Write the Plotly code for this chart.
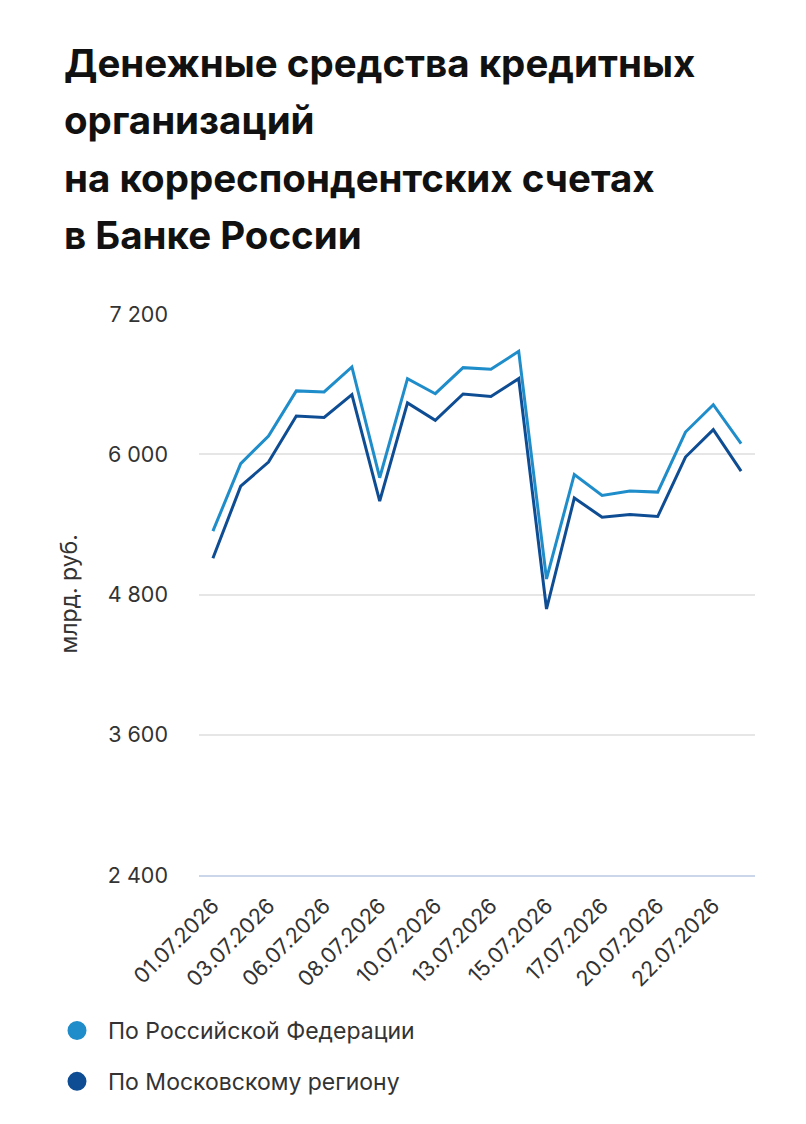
import plotly.graph_objects as go

# даты (рабочие дни + субботы), июль 2026
dates = ["01.07.2026", "02.07.2026", "03.07.2026", "04.07.2026", "06.07.2026",
         "07.07.2026", "08.07.2026", "09.07.2026", "10.07.2026", "11.07.2026",
         "13.07.2026", "14.07.2026", "15.07.2026", "16.07.2026", "17.07.2026",
         "18.07.2026", "20.07.2026", "21.07.2026", "22.07.2026", "23.07.2026"]

# млрд руб.
rf_values = [5342, 5919, 6156, 6542, 6533, 6747, 5799, 6647, 6518, 6741,
             6727, 6881, 4933, 5827, 5647, 5685, 5676, 6190, 6424, 6090]
msk_values = [5110, 5727, 5933, 6327, 6315, 6510, 5599, 6439, 6290, 6516,
              6495, 6647, 4676, 5625, 5462, 5484, 5467, 5976, 6210, 5856]

tick_labels = ["01.07.2026", "03.07.2026", "06.07.2026", "08.07.2026", "10.07.2026",
               "13.07.2026", "15.07.2026", "17.07.2026", "20.07.2026", "22.07.2026"]
y_ticks = [2400, 3600, 4800, 6000, 7200]

title_lines = ["Денежные средства кредитных", "организаций",
               "на корреспондентских счетах", "в Банке России"]
series_names = ["По Российской Федерации", "По Московскому региону"]

RF_COLOR = "#1f8dca"
MSK_COLOR = "#0e4d93"
FONT = "Inter"

# страница рисуется с отступом body 8px, поэтому всё сдвинуто на 8
OFF = 8
W, H = 806 - 2 * OFF, 1124 - 2 * OFF
L, T = 199 - OFF, 314 - OFF
R, B = W - (755 - OFF), H - (875 - OFF)
plot_w, plot_h = W - L - R, H - T - B

fig = go.Figure()

fig.add_trace(go.Scatter(x=dates, y=rf_values, mode="lines", name=series_names[0],
                         line=dict(color=RF_COLOR, width=3), showlegend=False))
fig.add_trace(go.Scatter(x=dates, y=msk_values, mode="lines", name=series_names[1],
                         line=dict(color=MSK_COLOR, width=3), showlegend=False))

# кружки для легенды (обводка того же цвета делает их крупнее)
for name, color in zip(series_names, [RF_COLOR, MSK_COLOR]):
    fig.add_trace(go.Scatter(x=[None], y=[None], mode="markers", name=name,
                             legendgroup=name,
                             marker=dict(color=color, size=18, symbol="circle",
                                         line=dict(color=color, width=3))))

# заголовок построчно (чтобы повторить межстрочный интервал)
title_y = [63, 120, 178, 235]
for text, py in zip(title_lines, title_y):
    fig.add_annotation(text="<b>" + text + "</b>", x=(62 - OFF - L) / plot_w,
                       y=(H - B - (py - OFF)) / plot_h, xref="paper", yref="paper",
                       xanchor="left", yanchor="middle", showarrow=False,
                       font=dict(family=FONT, size=38.5, color="#111111"))

# подпись оси Y
fig.add_annotation(text="млрд. руб.", textangle=-90,
                   x=(68 - OFF - L) / plot_w, y=0.5, xref="paper", yref="paper",
                   xanchor="center", yanchor="middle", showarrow=False,
                   font=dict(family=FONT, size=23, color="#333333"))

fig.update_layout(
    width=W, height=H,
    margin=dict(l=L, r=R, t=T, b=B, autoexpand=False),
    paper_bgcolor="white", plot_bgcolor="white",
    font=dict(family=FONT, color="#333333"),
    separators=", ",
    legend=dict(xref="container", yref="container", x=(46 - OFF) / W,
                y=1 - (1009 - OFF) / H,
                xanchor="left", yanchor="top", orientation="v",
                font=dict(family=FONT, size=23, color="#333333"),
                tracegroupgap=18, itemwidth=52),
    hovermode="x unified",
)

fig.update_xaxes(
    type="category", range=[-0.5, len(dates) - 0.5],
    tickmode="array", tickvals=tick_labels, ticktext=tick_labels,
    tickangle=-45, tickfont=dict(family=FONT, size=21.5, color="#333333"),
    showgrid=False, showline=True, linecolor="#ccd6eb", linewidth=1.5,
    ticks="", zeroline=False, ticklabelstandoff=8,
)

fig.update_yaxes(
    range=[2400, 7200], tickmode="array", tickvals=y_ticks, tickformat=",d",
    tickfont=dict(family=FONT, size=21.5, color="#333333"),
    showgrid=True, gridcolor="#e6e6e6", gridwidth=1.5,
    zeroline=False, showline=False, ticklabelstandoff=30,
)

fig.write_html("out.html")
